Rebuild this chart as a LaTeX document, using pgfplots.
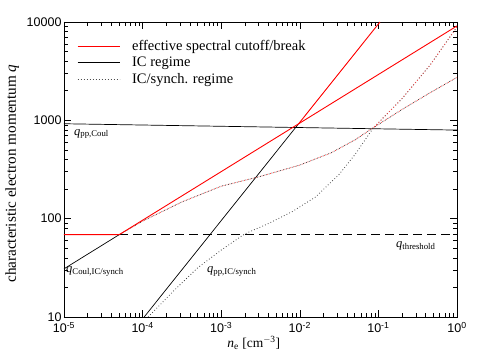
\documentclass[border=0pt]{standalone}
\usepackage{pgfplots}
\pgfplotsset{compat=1.18}
\usepackage{fontspec}
\setmainfont{Liberation Serif}
\setsansfont{Liberation Sans}

\definecolor{cutred}{RGB}{255,0,0}

\begin{document}
\begin{tikzpicture}
\begin{axis}[
  at={(64pt,44pt)}, anchor=south west,
  scale only axis,
  width=393pt, height=295pt,
  xmode=log, ymode=log,
  xmin=1e-5, xmax=1, ymin=10, ymax=10000,
  axis line style={line width=0.6pt},
  tick align=inside,
  major tick length=7pt, minor tick length=4pt,
  every tick/.style={black, line width=0.5pt},
  xtick={1e-5,1e-4,1e-3,1e-2,1e-1,1},
  xticklabels={10\textsuperscript{-5},10\textsuperscript{-4},10\textsuperscript{-3},10\textsuperscript{-2},10\textsuperscript{-1},10\textsuperscript{0}},
  ytick={10,100,1000,10000},
  yticklabels={10,100,1000,10000},
  ticklabel style={font=\fontsize{12.5}{13}\sffamily},
  xticklabel style={yshift=-2pt},
  yticklabel style={xshift=1pt},
  xlabel={\textit{n}\textsubscript{e} [cm\textsuperscript{$-$3}]},
  ylabel={characteristic electron momentum \textit{q}},
  xlabel style={font=\fontsize{13.5}{14}\selectfont, at={(axis description cs:0.483,-0.087)}, anchor=center},
  ylabel style={font=\fontsize{15.2}{16}\selectfont, at={(axis description cs:-0.132,0.486)}, anchor=center},
  legend style={at={(axis description cs:0.033,0.945)}, anchor=north west,
    draw=none, fill=none, font=\fontsize{14.5}{15}\selectfont,
    row sep=1pt, inner sep=0pt,
    /tikz/every odd column/.append style={column sep=10pt}},
  legend cell align=left,
  legend image code/.code={\draw[#1] (0pt,0pt) -- (42pt,0pt);},
]
% legend entries
\addlegendimage{draw=cutred, color=cutred, line width=1pt}
\addlegendentry{effective spectral cutoff/break}
\addlegendimage{draw=black, line width=0.7pt}
\addlegendentry{IC regime}
\addlegendimage{draw=black!70, line width=0.7pt, dash pattern=on 0.8pt off 2.2pt}
\addlegendentry{IC/synch. regime}

% q_pp,Coul
\addplot[black, line width=0.7pt, forget plot] coordinates {(1e-5,923) (1,796)};
% IC regime, steep branch
\addplot[black, line width=0.7pt, forget plot] coordinates {(1.047e-4,10) (9.55e-3,912)};
% Coulomb branch below threshold
\addplot[black, line width=0.7pt, forget plot] coordinates {(1e-5,30.9) (5.06e-5,68.9)};
% threshold
\addplot[black, line width=0.7pt, dash pattern=on 9pt off 5pt, forget plot] coordinates {(5.06e-5,68.9) (1,68.9)};

% IC/synch regime, dotted
\addplot[black!75, line width=0.8pt, dash pattern=on 0.8pt off 2.2pt, forget plot] coordinates {
(1.175e-4,10) (2.512e-4,18.6) (5.012e-4,31.6) (1e-3,47.9) (1.995e-3,70.0)
(3.981e-3,89.1) (7.943e-3,117.5) (1.585e-2,166.0) (3.162e-2,281.8)
(5.012e-2,446.7) (8.61e-2,836) (0.1995,1660) (0.4529,3631) (1,8913)};
\addplot[black!75, line width=0.8pt, dash pattern=on 0.8pt off 2.2pt, forget plot] coordinates {
(5.06e-5,68.9) (1e-4,94.4) (3.162e-4,147.9) (1e-3,213.8) (3.162e-3,269.2)
(1e-2,350.8) (2.512e-2,467.7) (5.012e-2,631) (8.61e-2,841) (0.1995,1288)
(0.4529,1905) (1,2735)};
\addplot[cutred!70, line width=0.8pt, dash pattern=on 0.8pt off 2.2pt, dash phase=1.5pt, forget plot] coordinates {
(5.06e-5,68.9) (1e-4,94.4) (3.162e-4,147.9) (1e-3,213.8) (3.162e-3,269.2)
(1e-2,350.8) (2.512e-2,467.7) (5.012e-2,631) (8.61e-2,841) (0.1995,1288)
(0.4529,1905) (1,2735)};
\addplot[cutred!70, line width=0.8pt, dash pattern=on 0.8pt off 2.2pt, dash phase=1.5pt, forget plot] coordinates {
(8.61e-2,836) (0.1995,1660) (0.4529,3631) (1,8913)};

% effective cutoff / break, IC regime
\addplot[cutred, line width=0.9pt, forget plot] coordinates {(1e-5,68.9) (5.06e-5,68.9) (1,9120)};
\addplot[cutred, line width=0.9pt, forget plot] coordinates {(9.55e-3,912) (0.1047,10000)};

% curve labels
\node[anchor=west, inner sep=0pt, font=\fontsize{12.5}{13}\selectfont] at (axis cs:1.34e-5,726) {\textit{q}\textsubscript{pp,Coul}};
\node[anchor=west, inner sep=0pt, font=\fontsize{12.5}{13}\selectfont] at (axis cs:1.06e-5,29.3) {\textit{q}\textsubscript{Coul,IC/synch}};
\node[anchor=west, inner sep=0pt, font=\fontsize{12.5}{13}\selectfont] at (axis cs:6.59e-4,29.3) {\textit{q}\textsubscript{pp,IC/synch}};
\node[anchor=west, inner sep=0pt, font=\fontsize{12.5}{13}\selectfont] at (axis cs:0.1675,52.6) {\textit{q}\textsubscript{threshold}};
\end{axis}
\pgfresetboundingbox
\path (0,0) rectangle (477pt,361pt);
\end{tikzpicture}
\end{document}
